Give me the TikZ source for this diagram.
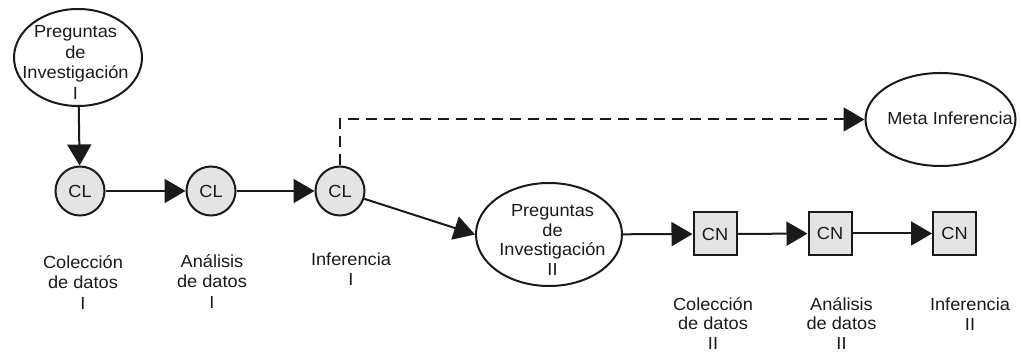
\documentclass[tikz,border=0pt]{standalone}
\usepackage{fontspec}
\setmainfont{Liberation Sans}[FakeStretch=1.04]
\usetikzlibrary{shapes.geometric,arrows.meta}
\definecolor{ink}{HTML}{1A1A1A}
\definecolor{shade}{HTML}{E4E4E4}
\begin{document}
\begin{tikzpicture}[x=1pt,y=-1pt,
  txt/.style={font=\fontsize{17.5}{20.5}\selectfont, align=center, inner sep=0pt, text=ink},
  oval/.style={ellipse, draw=ink, line width=2pt, inner sep=0pt},
  clnode/.style={circle, draw=ink, fill=shade, line width=2pt, minimum size=49pt,
    inner sep=0pt, text=ink, font=\fontsize{17.5}{20}\selectfont},
  cnnode/.style={rectangle, draw=ink, fill=shade, line width=2pt, minimum size=43pt,
    inner sep=0pt, text=ink, font=\fontsize{17.5}{20}\selectfont},
  flow/.style={draw=ink, line width=2pt, -{Triangle[length=21pt,width=24pt]}},
]
\useasboundingbox (0,0) rectangle (1021,352);

% research questions I
\node[oval, minimum width=128pt, minimum height=97pt] (q1) at (78,57.5) {};
\node[txt, anchor=north] (q1t) at (75.5,25.4) {Preguntas\\de\\Investigación\\I};

% qualitative strand
\node[clnode] (cl1) at (80,191) {CL};
\node[clnode] (cl2) at (211,191) {CL};
\node[clnode] (cl3) at (340,191) {CL};

\node[txt, anchor=north] (l1) at (83,255.4) {Colección\\de datos\\I};
\node[txt, anchor=north] (l2) at (212,254.4) {Análisis\\de datos\\I};
\node[txt, anchor=north] (l3) at (351,252.4) {Inferencia\\I};

% research questions II
\node[oval, minimum width=146pt, minimum height=103pt] (q2) at (549,234.5) {};
\node[txt, anchor=north, font=\fontsize{17.5}{19.8}\selectfont] (q2t) at (552.5,204.1) {Preguntas\\de\\Investigación\\II};

% quantitative strand
\node[cnnode] (cn1) at (715,234) {CN};
\node[cnnode] (cn2) at (830,233.5) {CN};
\node[cnnode] (cn3) at (954.5,233.5) {CN};

\node[txt, anchor=north, font=\fontsize{17.5}{19.5}\selectfont] (l4) at (713,297.4) {Colección\\de datos\\II};
\node[txt, anchor=north, font=\fontsize{17.5}{19.5}\selectfont] (l5) at (841.5,297.4) {Análisis\\de datos\\II};
\node[txt, anchor=north] (l6) at (970,297.4) {Inferencia\\II};

% meta inference
\node[oval, minimum width=150pt, minimum height=93pt] (meta) at (940.5,119.5) {};
\node[txt, anchor=base] (metat) at (950,125) {Meta Inferencia};

% connectors
\draw[flow] (q1) -- (cl1);
\draw[flow] (cl1) -- (cl2);
\draw[flow] (cl2) -- (cl3);
\draw[flow] (cl3) -- (q2.west);
\draw[flow] (q2) -- (cn1);
\draw[flow] (cn1) -- (cn2);
\draw[flow] (cn2) -- (cn3);
\draw[flow, dash pattern=on 11pt off 7pt] (cl3.north) |- (meta.west);
\end{tikzpicture}
\end{document}
